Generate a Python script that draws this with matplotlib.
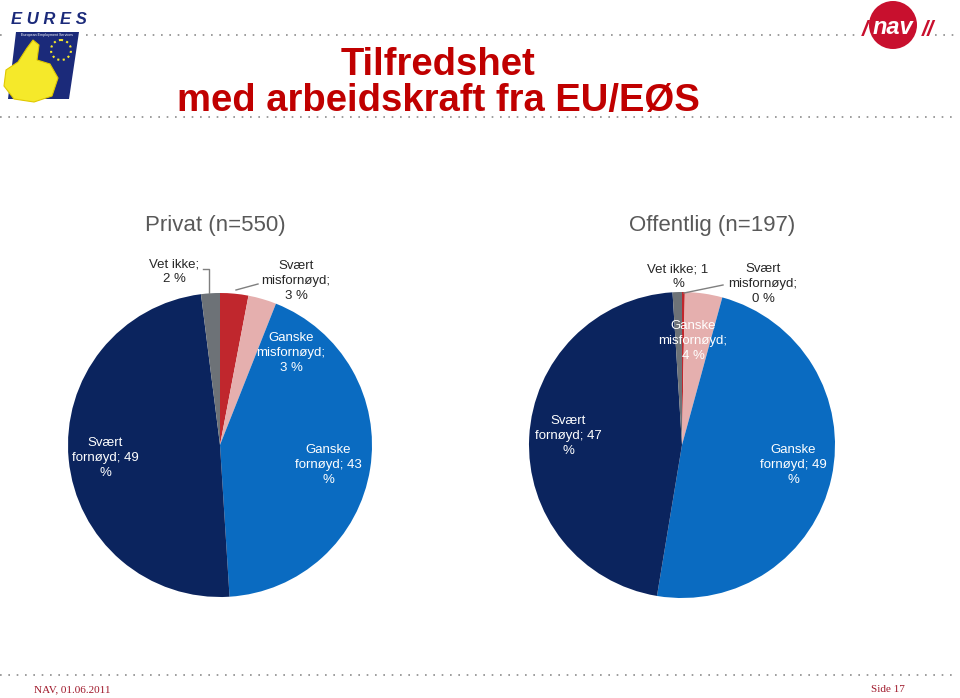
import matplotlib
matplotlib.use("Agg")
import matplotlib.pyplot as plt
from matplotlib.patches import Polygon, Circle

plt.rcParams['font.family'] = ['Liberation Sans', 'DejaVu Sans']

# data
categories = ['Svært misfornøyd', 'Ganske misfornøyd', 'Ganske fornøyd', 'Svært fornøyd', 'Vet ikke']
privat = [3, 3, 43, 49, 2]
offentlig = [0.3, 4, 49, 47, 1]
colors = ['#C0272D', '#E5AFAE', '#0A6BC1', '#0B245E', '#6D7277']

privat_labels = ['Svært\nmisfornøyd;\n3 %', 'Ganske\nmisfornøyd;\n3 %', 'Ganske\nfornøyd; 43\n%',
                 'Svært\nfornøyd; 49\n%', 'Vet ikke;\n2 %']
offentlig_labels = ['Svært\nmisfornøyd;\n0 %', 'Ganske\nmisfornøyd;\n4 %', 'Ganske\nfornøyd; 49\n%',
                    'Svært\nfornøyd; 47\n%', 'Vet ikke; 1\n%']

W, H = 960, 698
fig = plt.figure(figsize=(W / 100, H / 100), dpi=100)

# background layer in pixel coordinates
bg = fig.add_axes([0, 0, 1, 1])
bg.set_xlim(0, W)
bg.set_ylim(H, 0)
bg.axis('off')

dot = dict(color='#8C8C8C', linestyle=(0, (1, 4)), linewidth=1.2)
bg.plot([0, 6], [35, 35], **dot)
bg.plot([86, 860], [35, 35], **dot)
bg.plot([935, 960], [35, 35], **dot)
bg.plot([0, 958], [117, 117], **dot)
bg.plot([0, 958], [675, 675], **dot)

# EURES logo (rough)
bg.text(49, 20, 'E U R E S', color='#1B2A7A', fontsize=12, fontweight='bold',
        fontstyle='italic', ha='center', va='center')
bg.add_patch(Polygon([[16, 32], [79, 32], [69, 99], [8, 99]], closed=True,
                     facecolor='#1B2A7A', edgecolor='none'))
bg.text(47, 35, 'European Employment Services', color='white', fontsize=2.6,
        ha='center', va='center')
bg.add_patch(Polygon([[6, 70], [18, 62], [27, 48], [33, 40], [39, 45], [37, 60],
                      [50, 64], [58, 78], [52, 96], [34, 102], [14, 99], [4, 86]],
                     closed=True, facecolor='#F5E92A', edgecolor='#E0C800', linewidth=0.8))
bg.add_patch(Circle((61, 50), 10, facecolor='none', edgecolor='#F5E92A', linestyle=':', linewidth=1.5))

# NAV logo (rough)
bg.add_patch(Circle((893, 25), 24, facecolor='#C8102E', edgecolor='none'))
bg.text(893, 27, 'nav', color='white', fontsize=17, fontweight='bold', fontstyle='italic',
        ha='center', va='center')
bg.text(865, 30, '/', color='#C8102E', fontsize=16, fontweight='bold', fontstyle='italic',
        ha='center', va='center')
bg.text(928, 30, '//', color='#C8102E', fontsize=16, fontweight='bold', fontstyle='italic',
        ha='center', va='center')

# title
bg.text(438, 75, 'Tilfredshet', color='#C00000', fontsize=27.5, fontweight='bold',
        ha='center', va='baseline')
bg.text(438, 111, 'med arbeidskraft fra EU/EØS', color='#C00000', fontsize=27.5,
        fontweight='bold', ha='center', va='baseline')

bg.text(215, 226, 'Privat (n=550)', color='#595959', fontsize=16, ha='center', va='center')
bg.text(712, 226, 'Offentlig (n=197)', color='#595959', fontsize=16, ha='center', va='center')

bg.text(34, 690, 'NAV, 01.06.2011', color='#A0192B', fontsize=8,
        family='Liberation Serif', ha='left', va='center')
bg.text(905, 690, 'Side 17', color='#A0192B', fontsize=8,
        family='Liberation Serif', ha='right', va='center')


def draw_pie(cx, cy, r, values, labels, label_pos, text_colors, leaders):
    ax = fig.add_axes([(cx - r) / W, (H - cy - r) / H, 2 * r / W, 2 * r / H])
    ax.pie(values, colors=colors, startangle=90, counterclock=False, radius=1,
           wedgeprops=dict(linewidth=0))
    ax.set_xlim(-1, 1)
    ax.set_ylim(-1, 1)
    ax.set_aspect('equal')
    ax.axis('off')
    for lab, (px, py), tc in zip(labels, label_pos, text_colors):
        ax.text((px - cx) / r, (cy - py) / r, lab, color=tc, fontsize=9.5,
                ha='center', va='center', linespacing=1.3, clip_on=False)
    for pts in leaders:
        xs = [(p[0] - cx) / r for p in pts]
        ys = [(cy - p[1]) / r for p in pts]
        ax.plot(xs, ys, color='#7F7F7F', linewidth=1, clip_on=False)
    return ax


draw_pie(220, 445, 152, privat, privat_labels,
         [(296, 281), (291, 353), (328, 465), (105, 458), (174, 272)],
         ['#262626', 'white', 'white', 'white', '#262626'],
         [[(258, 284), (236, 290)], [(203, 269), (209, 269), (209, 293)]])

draw_pie(682, 445, 153, offentlig, offentlig_labels,
         [(763, 284), (693, 341), (793, 465), (568, 436), (678, 277)],
         ['#262626', 'white', 'white', 'white', '#262626'],
         [[(723, 285), (684, 293)]])

fig.savefig('out.png', dpi=100)
